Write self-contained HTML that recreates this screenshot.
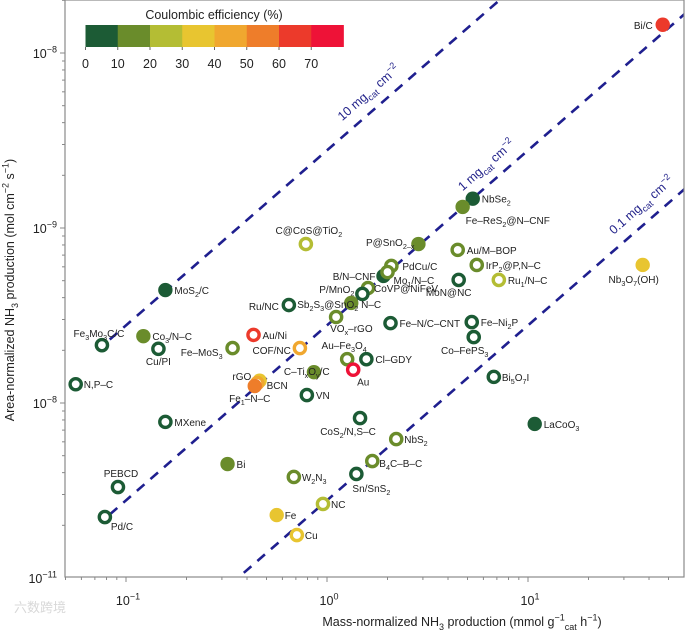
<!DOCTYPE html>
<html><head><meta charset="utf-8"><style>
html,body{margin:0;padding:0;background:#fff;}
svg{display:block;font-family:"Liberation Sans","Noto Sans CJK SC",sans-serif;}
</style></head><body>
<svg id="chart" width="685" height="632" viewBox="0 0 685 632" xmlns="http://www.w3.org/2000/svg">
<rect x="0" y="0" width="685" height="632" fill="#fff"/>
<g id="lines"></g>
<g id="points"></g>
<g id="axes"></g>
<g id="cbar"></g>
<text x="14" y="612" font-size="13" fill="#d8d8d8">六数跨境</text>
</svg>
<script>
const names = ["Bi/C","NbSe_{2}","Fe–ReS_{2}@N–CNF","P@SnO_{2–x}","Au/M–BOP","IrP_{2}@P,N–C","Ru_{1}/N–C","MoN@NC","PdCu/C","Mo_{1}/N–C","B/N–CNF","CoVP@NiFeV","P/MnO_{2}","Sb_{2}S_{3}@SnO_{2} N–C","Ru/NC","VO_{x}–rGO","Fe–N/C–CNT","Fe–Ni_{2}P","Co–FePS_{3}","Au/Ni","COF/NC","Fe–MoS_{3}","Au–Fe_{3}O_{4}","Cl–GDY","Au","C–Ti_{x}O_{y}/C","BCN","rGO","Fe_{1}–N–C","VN","MoS_{2}/C","Fe_{3}Mo_{3}C/C","Co_{3}/N–C","Cu/PI","N,P–C","MXene","Bi","PEBCD","Pd/C","W_{2}N_{3}","Fe","NC","Cu","C@CoS@TiO_{2}","CoS_{2}/N,S–C","NbS_{2}","B_{4}C–B–C","Sn/SnS_{2}","Bi_{5}O_{7}I","LaCoO_{3}","Nb_{3}O_{7}(OH)"];
const massRate = [46.8,5.31,4.73,2.85,4.47,5.56,7.16,4.52,2.09,1.91,2.0,1.60,1.50,1.32,0.646,1.11,2.07,5.25,5.37,0.431,0.733,0.339,1.26,1.57,1.35,0.861,0.462,0.450,0.437,0.794,0.157,0.0759,0.122,0.145,0.0562,0.157,0.320,0.0912,0.0785,0.684,0.562,0.955,0.708,0.785,1.46,2.21,1.68,1.40,6.76,10.8,37.2];
const areaRate = [1.45e-8,1.47e-9,1.32e-9,8.1e-10,7.5e-10,6.15e-10,5.05e-10,5.05e-10,6.07e-10,5.32e-10,5.6e-10,4.54e-10,4.2e-10,3.73e-10,3.63e-10,3.1e-10,2.86e-10,2.9e-10,2.38e-10,2.45e-10,2.06e-10,2.06e-10,1.78e-10,1.78e-10,1.55e-10,1.5e-10,1.34e-10,1.3e-10,1.25e-10,1.11e-10,4.42e-10,2.14e-10,2.41e-10,2.04e-10,1.28e-10,7.8e-11,4.48e-11,3.31e-11,2.23e-11,3.78e-11,2.29e-11,2.65e-11,1.76e-11,8.1e-10,8.2e-11,6.22e-11,4.66e-11,3.93e-11,1.41e-10,7.59e-11,6.15e-10];
const efficiency = [65,5,15,15,15,15,25,5,15,5,15,15,5,15,5,15,5,5,5,65,45,15,15,5,75,15,35,45,55,5,5,5,15,5,5,5,15,5,5,15,35,25,35,25,5,15,15,5,5,5,35];
const filled = [1,1,1,1,0,0,0,0,0,1,0,0,0,1,0,0,0,0,0,0,0,0,0,0,0,1,1,0,1,0,1,0,1,0,0,0,1,0,0,0,1,0,0,0,0,0,0,0,0,1,1];
// label layout: [dx, dy, anchor]
const labelPos = [[-10,4,"end"],[9,4,"start"],[3,17,"start"],[-4,2,"end"],[9,4,"start"],[9,4,"start"],[9,4,"start"],[-10,16,"middle"],[11,4,"start"],[10,8,"start"],[-12,8,"end"],[6,4,"start"],[-8,-1,"end"],[-54,5,"start"],[-10,5,"end"],[-6,15,"start"],[9,4,"start"],[9,4,"start"],[-9,17,"middle"],[9,4,"start"],[-9,6,"end"],[-10,8,"end"],[-3,-10,"middle"],[9,4,"start"],[10,16,"middle"],[-30,3,"start"],[7,8,"start"],[-6,-3,"end"],[-5,16,"middle"],[9,4,"start"],[9,4,"start"],[-3,-8,"middle"],[9,4,"start"],[0,16,"middle"],[8,4,"start"],[9,4,"start"],[9,4,"start"],[3,-10,"middle"],[6,13,"start"],[8,4,"start"],[8,4,"start"],[8,4,"start"],[8,4,"start"],[3,-10,"middle"],[-12,17,"middle"],[8,4,"start"],[7,6,"start"],[15,18,"middle"],[8,4,"start"],[9,4,"start"],[-9,18,"middle"]];
const loadings = [10,1,0.1];
const loadingLabels = ["10 mg_{cat} cm^{−2}","1 mg_{cat} cm^{−2}","0.1 mg_{cat} cm^{−2}"];
const xTicks = [-1,0,1];
const yTicks = [-8,-9,-10,-11];
const yTickLabels = ["−8","−9","−8","−11"];
const cbTicks = [0,10,20,30,40,50,60,70];
const cbColors = ["#1c5b35","#6a8c2b","#b4bd34","#e8c530","#f0a72f","#ee7d2a","#ec3a2b","#ee1237"];

const L=65,R=684,T=0,B=577;
const X = m => 327 + 201*Math.log10(m);
const Y = a => 228 - 175*(Math.log10(a)+9);
const NS="http://www.w3.org/2000/svg";
const col = ce => cbColors[Math.min(7,Math.floor(ce/10))];
function mk(tag,attrs,parent){const e=document.createElementNS(NS,tag);for(const k in attrs)e.setAttribute(k,attrs[k]);parent.appendChild(e);return e;}
function rich(t,str,fs){
  const re=/([_^])\{([^}]*)\}/g;let last=0,m,shift=0;
  const add=(s,d)=>{if(!s)return;const ts=mk("tspan",{},t);ts.textContent=s;
    if(d!==0){ts.setAttribute("font-size",fs*0.72);}
    const dy=d-shift; if(dy!==0)ts.setAttribute("dy",dy); shift=d;};
  while((m=re.exec(str))){add(str.slice(last,m.index),0);add(m[2],m[1]=="_"?fs*0.3:-fs*0.45);last=re.lastIndex;}
  add(str.slice(last),0);
}
const lg=document.getElementById("lines"),pg=document.getElementById("points"),ag=document.getElementById("axes"),cg=document.getElementById("cbar");
const cp=mk("clipPath",{id:"clip"},lg);mk("rect",{x:L,y:T,width:R-L,height:B-T},cp);
const lineStarts=[0.083,0.083,0.33];
loadings.forEach((ld,i)=>{
  const a=m=>m*ld*1e-6/3600;
  const m0=lineStarts[i],m1=70;
  const ln=mk("line",{x1:X(m0),y1:Y(a(m0)),x2:X(m1),y2:Y(a(m1)),stroke:"#1f1f8f","stroke-width":2.6,"stroke-dasharray":"10 8","clip-path":"url(#clip)"},lg);
  
  
});
const llPos=[1.66,6.4,37.8];
loadings.forEach((ld,i)=>{
  const m=llPos[i];const x=X(m),y=Y(m*ld*1e-6/3600)-16;
  const t=mk("text",{x:x,y:y,"font-size":12.5,fill:"#22228a","text-anchor":"middle",transform:`rotate(-41.2 ${x} ${y})`},lg);
  
  
  rich(t,loadingLabels[i],12.5);
});
names.forEach((n,i)=>{
  const x=X(massRate[i]),y=Y(areaRate[i]),c=col(efficiency[i]);
  const g=mk("g",{},pg);
  
  
  if(filled[i])mk("circle",{cx:x,cy:y,r:7.2,fill:c},g);
  else mk("circle",{cx:x,cy:y,r:5.6,fill:"#fff",stroke:c,"stroke-width":3.4},g);
  const p=labelPos[i];
  const t=mk("text",{x:x+p[0],y:y+p[1],"font-size":10,fill:"#222","text-anchor":p[2]},g);
  
  
  rich(t,n,10);
});
const fr=mk("rect",{x:L,y:T,width:R-L,height:B-T,fill:"none",stroke:"#8a8a8a","stroke-width":1.2},ag);


for(let d=-2;d<=1;d++)for(let k=1;k<10;k++){const x=X(k*Math.pow(10,d));if(x<L||x>R)continue;
  mk("line",{x1:x,y1:B,x2:x,y2:B+(k==1?5:3),stroke:"#888","stroke-width":1},ag);}
for(let d=-11;d<=-8;d++)for(let k=1;k<10;k++){const y=Y(k*Math.pow(10,d));if(y<T||y>B)continue;
  mk("line",{x1:L,y1:y,x2:L-(k==1?5:3),y2:y,stroke:"#888","stroke-width":1},ag);}
xTicks.forEach(d=>{const t=mk("text",{x:X(Math.pow(10,d))+2,y:605,"font-size":12.5,fill:"#222","text-anchor":"middle"},ag);
  
  
  rich(t,"10^{"+(d<0?"−"+(-d):d)+"}",12.5);});
yTicks.forEach((d,i)=>{const t=mk("text",{x:57,y:Y(Math.pow(10,d))+5,"font-size":12.5,fill:"#222","text-anchor":"end"},ag);
  
  
  rich(t,"10^{"+yTickLabels[i]+"}",12.5);});
const xl=mk("text",{x:462,y:626,"font-size":12.5,fill:"#222","text-anchor":"middle"},ag);


rich(xl,"Mass-normalized NH_{3} production (mmol g^{−1}_{cat} h^{−1})",12.5);
const yl=mk("text",{x:14,y:290,"font-size":12.5,fill:"#222","text-anchor":"middle",transform:"rotate(-90 14 290)"},ag);


rich(yl,"Area-normalized NH_{3} production (mol cm^{−2} s^{−1})",12.5);
const ct=mk("text",{x:214,y:19,"font-size":12.5,fill:"#222","text-anchor":"middle"},cg);


ct.textContent="Coulombic efficiency (%)";
const cbX=v=>85.5+v*3.225;
cbColors.forEach((c,i)=>{const r=mk("rect",{x:cbX(i*10),y:25,width:32.6,height:22,fill:c},cg);
  
  });
cbTicks.forEach(v=>{mk("line",{x1:cbX(v),y1:47,x2:cbX(v),y2:50,stroke:"#666"},cg);
  const t=mk("text",{x:cbX(v),y:68,"font-size":12.5,fill:"#222","text-anchor":"middle"},cg);
  
  
  t.textContent=v;});
</script>
</body></html>
